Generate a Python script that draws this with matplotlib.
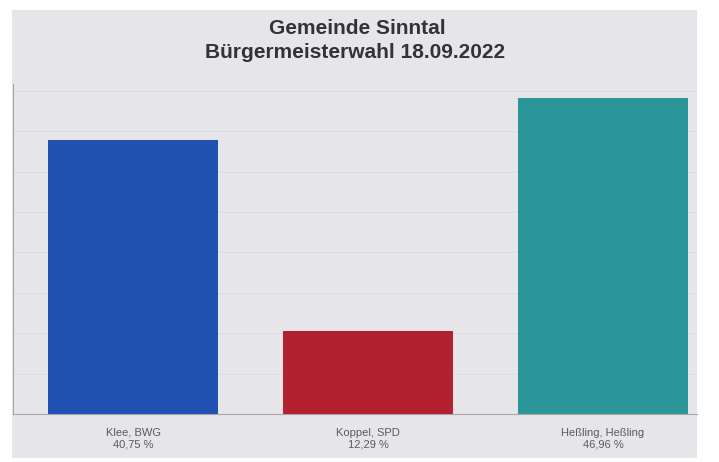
import matplotlib
matplotlib.use("Agg")
import matplotlib.pyplot as plt
import numpy as np

# Daten der Wahl
kandidaten = ["Klee, BWG", "Koppel, SPD", "Heßling, Heßling"]
prozente = [40.75, 12.29, 46.96]
farben = ["#2152b3", "#b3202f", "#2a9699"]

W, H = 719, 462
fig = plt.figure(figsize=(W / 100, H / 100), dpi=100)
fig.patch.set_facecolor("white")

# Hintergrund des Bildschirms
bg = fig.add_axes([12 / W, 1 - 458 / H, (697 - 12) / W, (458 - 10) / H], zorder=0)
bg.set_facecolor("#e6e6ea")
bg.set_xticks([])
bg.set_yticks([])
for s in bg.spines.values():
    s.set_visible(False)

ax = fig.add_axes([13 / W, 1 - 414 / H, (697 - 13) / W, (414 - 84) / H], zorder=1)
ax.set_facecolor("none")

x = np.arange(len(kandidaten))
ax.bar(x, prozente, width=0.72, color=farben, zorder=3)

ax.set_xlim(-0.511, 2.40)
ax.set_ylim(0, 49)

# feine Gitterlinien
ax.set_yticks(np.arange(0, 49, 6))
ax.grid(axis="y", color="#dcdce0", linewidth=0.7, zorder=0)
ax.tick_params(axis="y", length=0, labelleft=False)

labels = [f"{k}\n{str(p).replace('.', ',')} %" for k, p in zip(kandidaten, prozente)]
ax.set_xticks(x)
ax.set_xticklabels(labels, fontsize=8, color="#5a5a5a", family="Liberation Sans")
ax.tick_params(axis="x", length=0, pad=10)

for s in ["top", "right"]:
    ax.spines[s].set_visible(False)
ax.spines["left"].set_color("#a8a8ac")
ax.spines["bottom"].set_color("#a8a8ac")

fig.text(357 / W, 1 - 28 / H, "Gemeinde Sinntal", ha="center", va="center",
         fontsize=15, fontweight="bold", color="#333333", family="Liberation Sans")
fig.text(355 / W, 1 - 52 / H, "Bürgermeisterwahl 18.09.2022", ha="center", va="center",
         fontsize=15, fontweight="bold", color="#333333", family="Liberation Sans")

fig.savefig("out.png", dpi=100, facecolor="white")
